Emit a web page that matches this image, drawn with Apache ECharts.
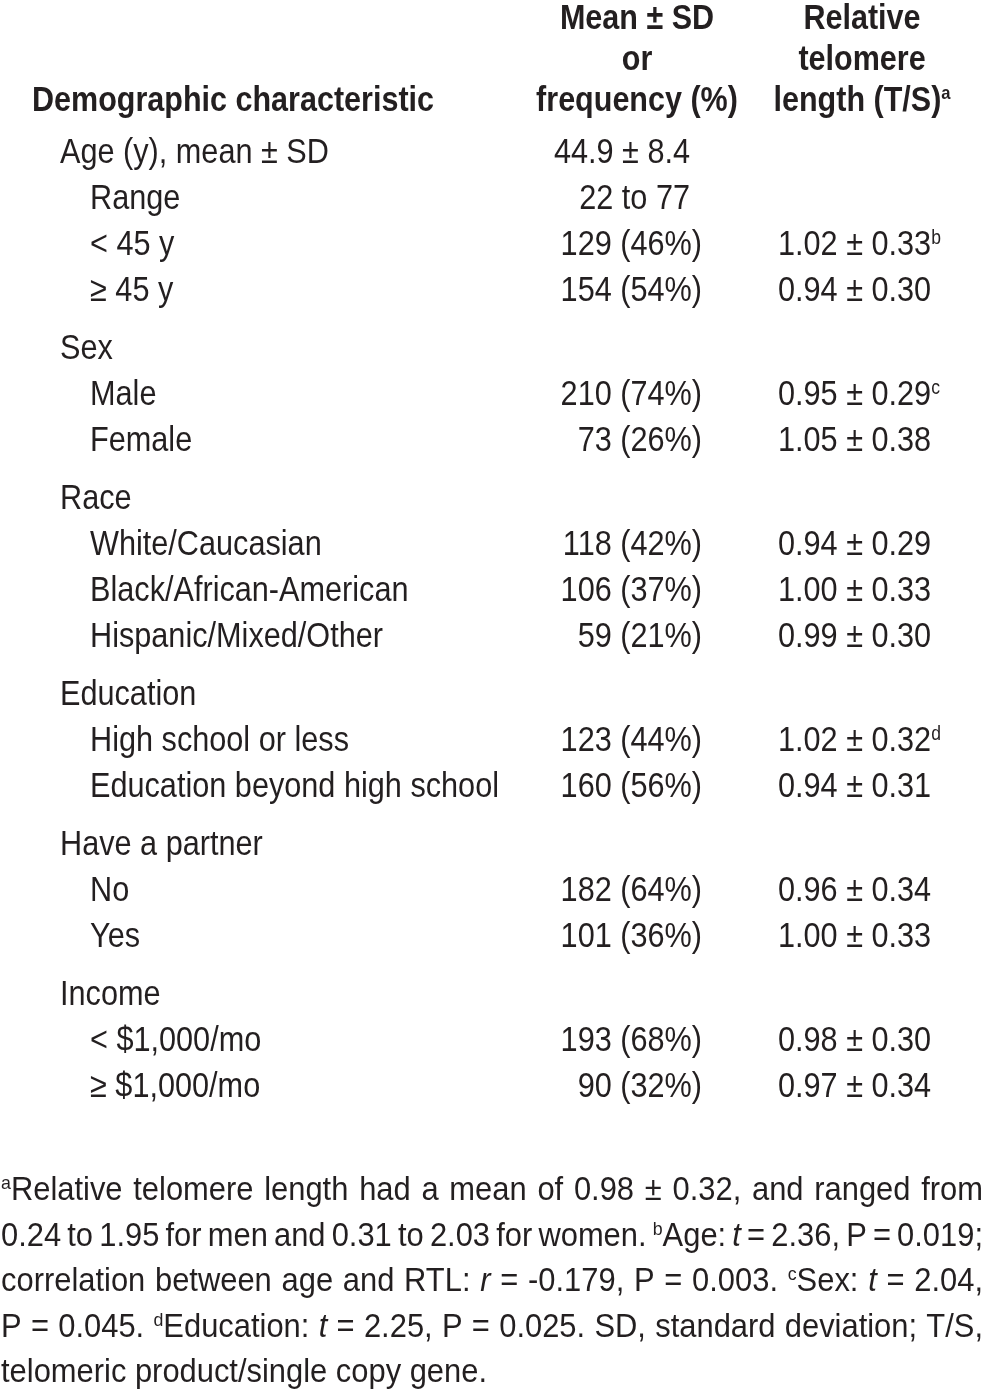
<!DOCTYPE html>
<html><head><meta charset="utf-8">
<script src="https://cdn.jsdelivr.net/npm/echarts@6/dist/echarts.min.js"></script>
<style>html,body{margin:0;padding:0;background:#fff}#c{width:984px;height:1389px}</style>
</head><body><div id="c"></div>
<script>
// ---------------- data ----------------
const headerCol1 = ["Demographic characteristic"];
const headerCol2 = ["Mean ± SD", "or", "frequency (%)"];
const headerCol3 = ["Relative", "telomere", "length (T/S)^a"];

const rowLabels = [
  "Age (y), mean ± SD", "Range", "< 45 y", "≥ 45 y",
  "Sex", "Male", "Female",
  "Race", "White/Caucasian", "Black/African-American", "Hispanic/Mixed/Other",
  "Education", "High school or less", "Education beyond high school",
  "Have a partner", "No", "Yes",
  "Income", "< $1,000/mo", "≥ $1,000/mo"
];
const rowLevels = [0,1,1,1, 0,1,1, 0,1,1,1, 0,1,1, 0,1,1, 0,1,1];
const groupStart = [1,0,0,0, 1,0,0, 1,0,0,0, 1,0,0, 1,0,0, 1,0,0];
const freqValues = [
  "44.9 ± 8.4", "22 to 77", "129 (46%)", "154 (54%)",
  "", "210 (74%)", "73 (26%)",
  "", "118 (42%)", "106 (37%)", "59 (21%)",
  "", "123 (44%)", "160 (56%)",
  "", "182 (64%)", "101 (36%)",
  "", "193 (68%)", "90 (32%)"
];
const rtlValues = [
  "", "", "1.02 ± 0.33", "0.94 ± 0.30",
  "", "0.95 ± 0.29", "1.05 ± 0.38",
  "", "0.94 ± 0.29", "1.00 ± 0.33", "0.99 ± 0.30",
  "", "1.02 ± 0.32", "0.94 ± 0.31",
  "", "0.96 ± 0.34", "1.00 ± 0.33",
  "", "0.98 ± 0.30", "0.97 ± 0.34"
];
const rtlNotes = [
  "", "", "b", "",
  "", "c", "",
  "", "", "", "",
  "", "d", "",
  "", "", "",
  "", "", ""
];
const footnoteLines = [
  "^aRelative telomere length had a mean of 0.98 ± 0.32, and ranged from",
  "0.24 to 1.95 for men and 0.31 to 2.03 for women. ^bAge: *t* = 2.36, P = 0.019;",
  "correlation between age and RTL: *r* = -0.179, P = 0.003. ^cSex: *t* = 2.04,",
  "P = 0.045. ^dEducation: *t* = 2.25, P = 0.025. SD, standard deviation; T/S,",
  "telomeric product/single copy gene."
];

// ---------------- layout / style ----------------
const INK = '#231f20';
const canvas = document.createElement('canvas');
const ctx = canvas.getContext('2d');
function hasFont(f) {
  ctx.font = '40px monospace'; const a = ctx.measureText('mmmWWWiiilll0123').width;
  ctx.font = '40px "' + f + '", monospace'; const b = ctx.measureText('mmmWWWiiilll0123').width;
  return a !== b;
}
const FAM = hasFont('Liberation Sans Narrow') ? '"Liberation Sans Narrow"' : '"Liberation Sans", Arial, sans-serif';
function fontStr(size, weight, italic) {
  return (italic ? 'italic ' : '') + (weight || 'normal') + ' ' + size + 'px ' + FAM;
}
function rawW(t, size, weight, italic) { ctx.font = fontStr(size, weight, italic); return ctx.measureText(t).width; }

const BODY = 35, HEAD = 35, FOOT = 33, SUP_B = 20, SUP_F = 19, SUP_H = 19;
const DY = 1.5;
const sxBody = 409 / rawW('Education beyond high school', BODY);
const sxHead = 402 / rawW('Demographic characteristic', HEAD, 'bold');
const sxFoot = 486 / rawW('telomeric product/single copy gene.', FOOT);

const els = [];
function put(x, y, t, size, sx, weight, italic) {
  els.push({ type: 'text', x: x, y: y + DY, scaleX: sx, silent: true,
    style: { text: t, font: fontStr(size, weight, italic), fill: INK,
      textAlign: 'left', textVerticalAlign: 'middle', align: 'left', verticalAlign: 'middle' } });
}
function parse(word) {
  const segs = []; const re = /\^(.)|\*([^*]+)\*|([^\^*]+)/g; let m;
  while ((m = re.exec(word))) {
    if (m[1]) segs.push({ t: m[1], sup: true });
    else if (m[2]) segs.push({ t: m[2], it: true });
    else segs.push({ t: m[3] });
  }
  return segs;
}
function segsWidth(segs, size, supSize, sx, weight) {
  return segs.reduce((s, g) => s + rawW(g.t, g.sup ? supSize : size, weight, g.it) * sx, 0);
}
function drawSegs(x, y, segs, size, supSize, sx, weight) {
  segs.forEach(g => {
    const sz = g.sup ? supSize : size;
    put(x, g.sup ? y - 7 : y, g.t, sz, sx, weight, g.it);
    x += rawW(g.t, sz, weight, g.it) * sx;
  });
  return x;
}

// header
const headY = [17.5, 58.5, 99.5];
put(32, headY[2], headerCol1[0], HEAD, sxHead, 'bold');
headerCol2.forEach((t, i) => {
  const s = parse(t); const w = segsWidth(s, HEAD, SUP_H, sxHead, 'bold');
  drawSegs(637 - w / 2, headY[i], s, HEAD, SUP_H, sxHead, 'bold');
});
headerCol3.forEach((t, i) => {
  const s = parse(t); const w = segsWidth(s, HEAD, SUP_H, sxHead, 'bold');
  drawSegs(862 - w / 2, headY[i], s, HEAD, SUP_H, sxHead, 'bold');
});

// body rows
let y = 152;
rowLabels.forEach((lab, i) => {
  if (i > 0) y += 46 + (groupStart[i] ? 12 : 0);
  put(60 + rowLevels[i] * 30, y, lab, BODY, sxBody);
  const fv = freqValues[i];
  if (fv) {
    const w = rawW(fv, BODY) * sxBody;
    const right = fv.indexOf('(') >= 0 ? 702 : 690;
    put(right - w, y, fv, BODY, sxBody);
  }
  if (rtlValues[i]) {
    const segs = [{ t: rtlValues[i] }];
    if (rtlNotes[i]) segs.push({ t: rtlNotes[i], sup: true });
    drawSegs(778, y, segs, BODY, SUP_B, sxBody);
  }
});

// footnote (justified)
const footY = [1189, 1235, 1280, 1326, 1371];
footnoteLines.forEach((line, li) => {
  const words = line.split(' ').map(parse);
  const widths = words.map(s => segsWidth(s, FOOT, SUP_F, sxFoot));
  const total = widths.reduce((a, b) => a + b, 0);
  const last = li === footnoteLines.length - 1;
  const space = rawW(' ', FOOT) * sxFoot;
  let gap = last ? space : (983 - 1 - total) / (words.length - 1);
  let lsx = 1;
  if (!last && gap < 4) { gap = 4; lsx = (982 - 4 * (words.length - 1)) / total; }
  let x = 1;
  words.forEach((s, k) => {
    drawSegs(x, footY[li], s, FOOT, SUP_F, sxFoot * lsx);
    x += widths[k] * lsx + gap;
  });
});

const chart = echarts.init(document.getElementById('c'), null, { renderer: 'canvas' });
chart.setOption({ backgroundColor: '#ffffff', animation: false, graphic: { elements: els } });
</script>
</body></html>
